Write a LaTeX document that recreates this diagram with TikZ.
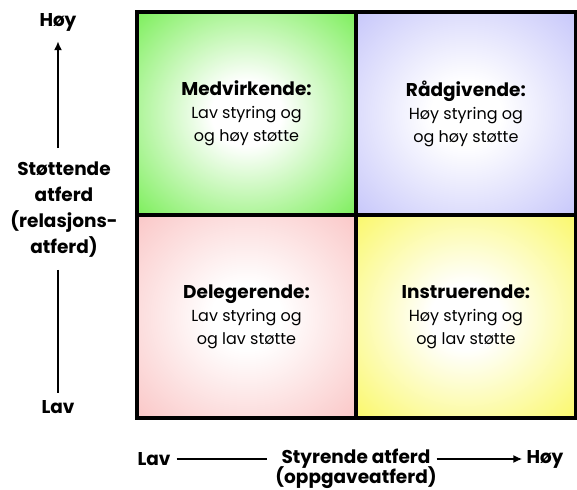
\documentclass[tikz,border=0pt]{standalone}
\usepackage{fontspec}
\setmainfont{Poppins}
\usetikzlibrary{arrows.meta, positioning}

\definecolor{medvgreen}{RGB}{122,238,88}
\definecolor{radglilac}{RGB}{198,198,250}
\definecolor{delepink}{RGB}{250,198,198}
\definecolor{instyellow}{RGB}{250,248,104}
\colorlet{qfill}{white}
\pgfdeclareradialshading[qfill]{glow}{\pgfpoint{0bp}{0bp}}{color(0bp)=(white); color(8bp)=(white); color(36bp)=(qfill); color(50bp)=(qfill)}

\begin{document}
\begin{tikzpicture}[x=1pt, y=-1pt,
  quad/.style={minimum width=219pt, minimum height=202.5pt, inner sep=0pt, align=center, shade, shading=glow, font=\fontsize{16}{23}\selectfont},
  qcol/.code={\colorlet{qfill}{#1}},
  axislabel/.style={font=\bfseries\fontsize{18.5}{26}\selectfont, align=center, inner sep=2pt},
  axis/.style={line width=2.5pt},
  arrow/.style={axis, -{Latex[length=9pt,width=8pt]}}]
  \useasboundingbox (0,0) rectangle (577,489);
  % quadrants
  \node[quad, qcol=medvgreen] (medv) at (246.5,113.5) {{\bfseries\fontsize{18.5}{23}\selectfont Medvirkende:}\\Lav styring og\\og høy støtte};
  \node[quad, qcol=radglilac, right=0pt of medv] (radg) {{\bfseries\fontsize{18.5}{23}\selectfont Rådgivende:}\\Høy styring og\\og høy støtte};
  \node[quad, qcol=delepink, below=0pt of medv] (dele) {{\bfseries\fontsize{18.5}{23}\selectfont Delegerende:}\\Lav styring og\\og lav støtte};
  \node[quad, qcol=instyellow, below=0pt of radg] (inst) {{\bfseries\fontsize{18.5}{23}\selectfont Instruerende:}\\Høy styring og\\og lav støtte};
  \draw[line width=4pt] (medv.north west) rectangle (inst.south east);
  \draw[line width=4pt] (medv.north east) -- (dele.south east);
  \draw[line width=4pt] (medv.south west) -- (radg.south east);
  % vertical axis
  \node[axislabel] (hoyV) at (58,22) {Høy};
  \node[axislabel] (stotte) at (64,210) {Støttende\\atferd\\(relasjons-\\atferd)};
  \node[axislabel] (lavV) at (58,407) {Lav};
  \draw[arrow, shorten <=12pt, shorten >=8pt] (stotte.north -| hoyV) -- (hoyV.south);
  \draw[axis, shorten <=10pt, shorten >=5pt] (stotte.south -| lavV) -- (lavV.north);
  % horizontal axis
  \node[axislabel] (lavH) at (154,459) {Lav};
  \node[axislabel] (styr) at (356,459) {Styrende atferd};
  \node[axislabel] (oppg) at (356,478) {(oppgaveatferd)};
  \node[axislabel] (hoyH) at (545,459) {Høy};
  \draw[axis, shorten <=4pt, shorten >=12pt] (lavH) -- (styr);
  \draw[arrow, shorten <=4pt, shorten >=2pt] (styr) -- (hoyH);
\end{tikzpicture}
\end{document}
